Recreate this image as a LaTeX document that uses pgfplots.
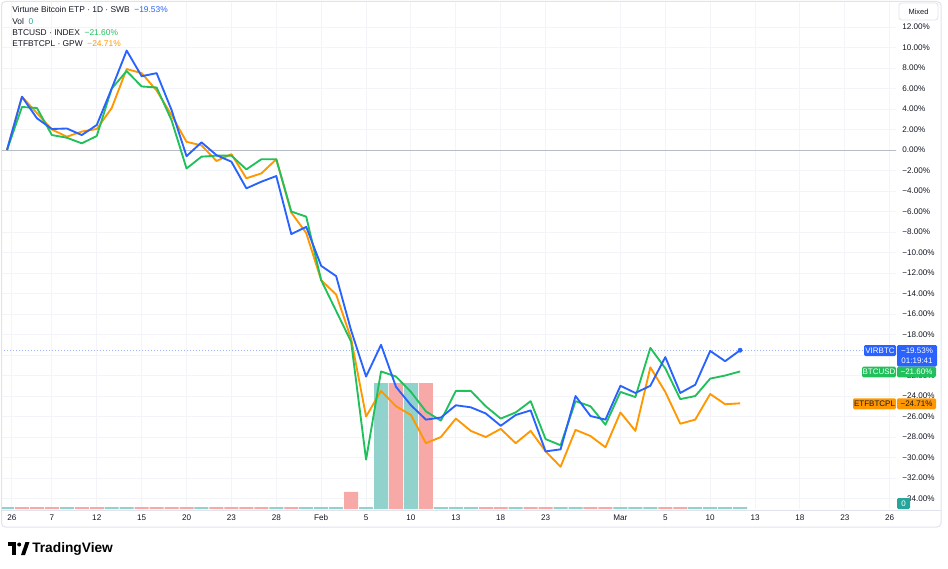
\documentclass[border=0pt]{standalone}
\usepackage{pgfplots}
\usepackage{pgfplotstable}
\pgfplotsset{compat=1.18}
\usepackage{fontspec}
\setmainfont{Liberation Sans}
\definecolor{tvblue}{HTML}{2962FF}
\definecolor{tvgreen}{HTML}{22C05C}
\definecolor{tvorange}{HTML}{FF9800}
\definecolor{tvtext}{HTML}{131722}
\definecolor{gridc}{HTML}{F2F4F8}
\definecolor{zeroc}{HTML}{B8BAC6}
\definecolor{framec}{HTML}{E0E3EB}
\definecolor{volup}{HTML}{92D2CC}
\definecolor{voldn}{HTML}{F7A9A7}
\definecolor{tvteal}{HTML}{26A69A}
\definecolor{dotblue}{HTML}{9FB6FF}

\pgfplotstableread{
x b g o
0 0 0 0
1 5.2 4.2 5.2
2 3.1 4.1 3.6
3 2.05 1.46 2.0
4 2.1 1.2 1.3
5 1.46 0.65 1.8
6 2.44 1.37 2.05
7 6.0 6.0 4.1
8 9.7 7.7 7.9
9 7.2 6.2 7.5
10 7.5 6.1 5.8
11 3.9 2.9 3.4
12 -0.6 -1.8 0.8
13 0.75 -0.65 0.45
14 -0.5 -0.55 -1.07
15 -1.14 -0.55 -0.4
16 -3.74 -1.89 -2.76
17 -3.09 -0.9 -2.28
18 -2.54 -0.9 -0.9
19 -8.2 -6.0 -6.1
20 -7.5 -6.5 -8.1
21 -11.3 -12.7 -12.7
22 -12.3 -15.7 -14.1
23 -17.6 -18.7 -18.4
24 -22.1 -30.2 -26.0
25 -19.0 -21.6 -23.5
26 -23.1 -22.1 -25.0
27 -24.9 -23.6 -25.85
28 -26.3 -25.5 -28.6
29 -26.1 -26.4 -28.0
30 -24.9 -23.5 -26.2
31 -25.1 -23.5 -27.4
32 -25.7 -25.0 -28.0
33 -26.9 -26.2 -27.2
34 -25.85 -25.6 -28.6
35 -25.4 -24.5 -27.4
36 -29.4 -28.2 -29.4
37 -29.2 -28.8 -30.9
38 -24.0 -24.5 -27.3
39 -25.95 -25.0 -27.9
40 -26.3 -26.8 -29.0
41 -23.0 -23.6 -25.6
42 -23.7 -24.1 -27.4
43 -23.0 -19.3 -21.2
44 -20.2 -21.3 -23.6
45 -23.7 -24.3 -26.7
46 -22.9 -24.0 -26.3
47 -19.6 -22.3 -23.8
48 -20.6 -22.0 -24.8
49 -19.53 -21.6 -24.71
}\datatable

\pgfplotsset{tvaxis/.style={at={(1.5pt,44.25pt)}, anchor=south west,
  width=670.5pt, height=380.25pt, scale only axis, xmin=-0.334, xmax=59.42}}

\begin{document}
\begin{tikzpicture}
\path[use as bounding box] (0,0) rectangle (711pt,426pt);
\begin{scope}[x=0.75pt,y=0.75pt]
\draw[framec, line width=0.75pt, rounded corners=3pt] (1.5,{568-1.5}) rectangle (941,{568-527});
\draw[framec, line width=0.6pt] (1.5,{568-510}) -- (941,{568-510});
\end{scope}

% grid, tick labels, reference lines
\begin{axis}[tvaxis, ymin=-35.02, ymax=14.44,
  axis line style={draw=none}, major tick length=0pt,
  xtick={0.33,3,6,9,12,15,18,21,24,27,30,33,36,41,44,47,50,53,56,59},
  xticklabels={26,7,12,15,20,23,28,Feb,5,10,13,18,23,Mar,5,10,13,18,23,26},
  ytick={-34,-32,-30,-28,-26,-24,-22,-20,-18,-16,-14,-12,-10,-8,-6,-4,-2,0,2,4,6,8,10,12},
  yticklabels={−34.00\%,−32.00\%,−30.00\%,−28.00\%,−26.00\%,−24.00\%,−22.00\%,,−18.00\%,−16.00\%,−14.00\%,−12.00\%,−10.00\%,−8.00\%,−6.00\%,−4.00\%,−2.00\%,0.00\%,2.00\%,4.00\%,6.00\%,8.00\%,10.00\%,12.00\%},
  yticklabel pos=right,
  grid=major, major grid style={gridc, line width=0.75pt},
  tick label style={font=\fontsize{6.1}{7}\selectfont, text=tvtext, inner sep=0pt},
  xticklabel style={anchor=center, yshift=-6.75pt},
  yticklabel style={anchor=west, xshift=4.5pt}]
\addplot[zeroc, line width=0.75pt] coordinates {(-1,0) (60,0)};
\addplot[dotblue, line width=0.75pt, dash pattern=on 0.75pt off 1.5pt] coordinates {(-1,-19.53) (57.3,-19.53)};
\end{axis}

% volume
\begin{axis}[tvaxis, ymin=0, ymax=4.024, hide axis, ybar, bar width=10.5pt, bar shift=0pt]
\addplot[fill=volup, draw=none] coordinates {(0,0.014) (4,0.014) (7,0.014) (8,0.014) (13,0.014) (18,0.014) (20,0.014) (21,0.014) (22,0.014) (24,0.014) (25,1) (27,1) (29,0.014) (30,0.014) (31,0.014) (34,0.014) (37,0.014) (38,0.014) (41,0.014) (42,0.014) (43,0.014) (46,0.014) (47,0.014) (48,0.014) (49,0.014)};
\addplot[fill=voldn, draw=none] coordinates {(1,0.014) (2,0.014) (3,0.014) (5,0.014) (6,0.014) (9,0.014) (10,0.014) (11,0.014) (12,0.014) (14,0.014) (15,0.014) (16,0.014) (17,0.014) (19,0.014) (23,0.135) (26,1) (28,1) (32,0.014) (33,0.014) (35,0.014) (36,0.014) (39,0.014) (40,0.014) (44,0.014) (45,0.014)};
\end{axis}

% price lines
\begin{axis}[tvaxis, ymin=-35.02, ymax=14.44, hide axis]
\addplot[tvorange, line width=1.4pt, line join=round] table[x=x,y=o]{\datatable};
\addplot[tvgreen, line width=1.4pt, line join=round] table[x=x,y=g]{\datatable};
\addplot[tvblue, line width=1.4pt, line join=round] table[x=x,y=b]{\datatable};
\addplot[only marks, mark=*, mark size=1.6pt, tvblue] coordinates {(49,-19.53)};
\end{axis}

\begin{scope}[x=0.75pt,y=0.75pt, every node/.style={inner sep=0pt, font=\fontsize{6.3}{7}\selectfont, text=tvtext}]
% legend
\node[anchor=west] at (12,{568-10}) {Virtune Bitcoin ETP · 1D · SWB\hspace{3.5pt}\textcolor{tvblue}{−19.53\%}};
\node[anchor=west] at (12,{568-21.5}) {Vol\hspace{3.5pt}\textcolor{tvteal}{0}};
\node[anchor=west] at (12,{568-33}) {BTCUSD · INDEX\hspace{3.5pt}\textcolor{tvgreen}{−21.60\%}};
\node[anchor=west] at (12,{568-44}) {ETFBTCPL · GPW\hspace{3.5pt}\textcolor{tvorange}{−24.71\%}};
% Mixed box
\draw[framec, line width=0.6pt, rounded corners=2pt, fill=white] (899,{568-3}) rectangle (938,{568-20});
\node at (918.5,{568-11.5}) {\fontsize{5.6}{6}\selectfont Mixed};
% price labels
\fill[tvblue, rounded corners=1pt] (864,{568-345}) rectangle (896,{568-356});
\node[text=white] at (880,{568-350.5}) {\fontsize{6}{7}\selectfont VIRBTC};
\fill[tvblue, rounded corners=1pt] (897,{568-345}) rectangle (937,{568-366.5});
\node[text=white] at (917,{568-350.5}) {\fontsize{6}{7}\selectfont −19.53\%};
\node[text=white] at (917,{568-361}) {\fontsize{6}{7}\selectfont 01:19:41};
\fill[tvgreen, rounded corners=1pt] (862,{568-366.7}) rectangle (896,{568-377.3});
\node[text=white] at (879,{568-372}) {\fontsize{6}{7}\selectfont BTCUSD};
\fill[tvgreen, rounded corners=1pt] (897,{568-366.7}) rectangle (936,{568-377.3});
\node[text=white] at (916.5,{568-372}) {\fontsize{6}{7}\selectfont −21.60\%};
\fill[tvorange, rounded corners=1pt] (853,{568-398.3}) rectangle (896,{568-409.3});
\node at (874.5,{568-403.8}) {\fontsize{6}{7}\selectfont ETFBTCPL};
\fill[tvorange, rounded corners=1pt] (897,{568-398.3}) rectangle (936,{568-409.3});
\node at (916.5,{568-403.8}) {\fontsize{6}{7}\selectfont −24.71\%};
\fill[tvteal, rounded corners=1pt] (897,{568-498}) rectangle (910,{568-509});
\node[text=white] at (903.5,{568-503.5}) {\fontsize{6}{7}\selectfont 0};
% TradingView logo
\fill[black] (8,{568-542}) rectangle (16,{568-546});
\fill[black] (12,{568-542}) rectangle (16,{568-555});
\fill[black] (19.2,{568-544.5}) circle (2);
\fill[black] (21,{568-555}) -- (25.5,{568-542}) -- (29.5,{568-542}) -- (25,{568-555}) -- cycle;
\node[anchor=west, text=black] at (32,{568-548.5}) {\fontsize{10.3}{12}\selectfont\bfseries TradingView};
\end{scope}
\end{tikzpicture}
\end{document}
